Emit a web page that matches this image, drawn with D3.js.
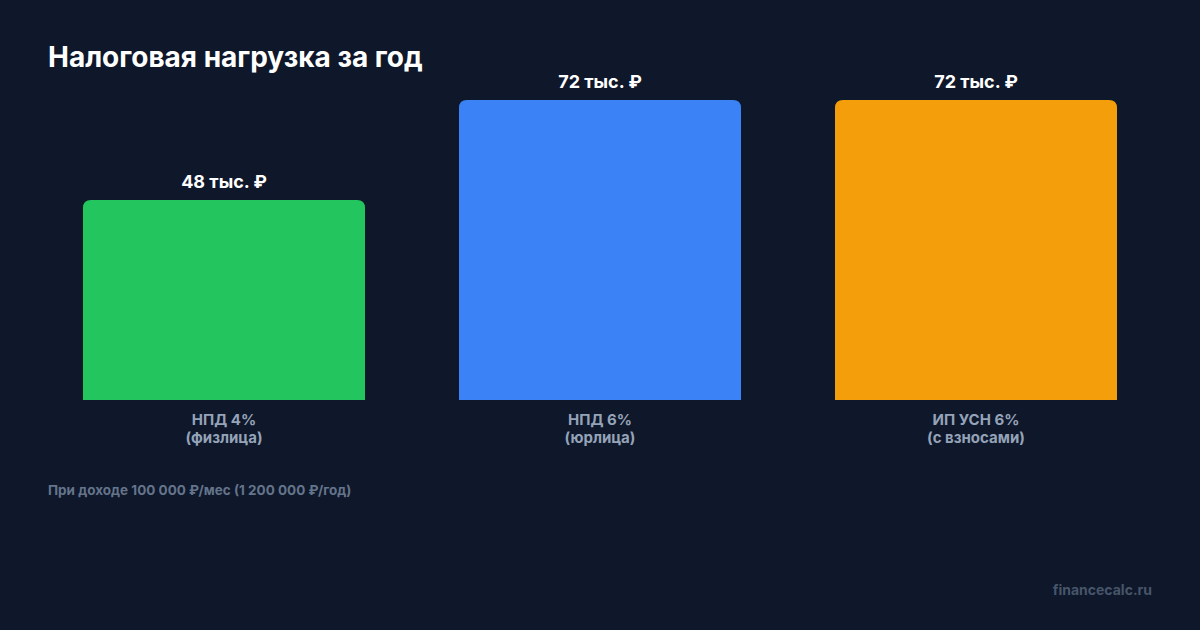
<!DOCTYPE html>
<html>
<head>
<meta charset="utf-8">
<script src="https://cdn.jsdelivr.net/npm/d3@7"></script>
<style>
  html, body { margin: 0; padding: 0; background: #0f172a; }
  svg { display: block; font-family: Inter, "Noto Sans", sans-serif; }
</style>
</head>
<body>
<svg width="1200" height="630"></svg>
<script>
const categories = ["НПД 4%", "НПД 6%", "ИП УСН 6%"];
const subLabels = ["(физлица)", "(юрлица)", "(с взносами)"];
const values = [48, 72, 72];
const valueLabels = ["48 тыс. ₽", "72 тыс. ₽", "72 тыс. ₽"];
const colors = ["#22c55e", "#3b82f6", "#f59e0b"];

const svg = d3.select("svg");
const width = +svg.attr("width");
const height = +svg.attr("height");

svg.append("rect")
  .attr("width", width)
  .attr("height", height)
  .attr("fill", "#0f172a");

const data = categories.map((c, i) => ({
  cat: c,
  sub: subLabels[i],
  value: values[i],
  label: valueLabels[i],
  color: colors[i]
}));

const x = d3.scaleBand()
  .domain(categories)
  .range([36, 1164])
  .paddingInner(0.25)
  .paddingOuter(0.125);

const y = d3.scaleLinear()
  .domain([0, d3.max(values)])
  .range([400, 100]);

const r = 8;

// bar with rounded top corners only
function barPath(d) {
  const x0 = x(d.cat), x1 = x0 + x.bandwidth();
  const y0 = y(d.value), y1 = y(0);
  return `M${x0},${y1}V${y0 + r}Q${x0},${y0} ${x0 + r},${y0}` +
    `H${x1 - r}Q${x1},${y0} ${x1},${y0 + r}V${y1}Z`;
}

svg.append("text")
  .attr("x", 48)
  .attr("y", 67)
  .attr("font-size", 28)
  .attr("font-weight", 700)
  .attr("fill", "#ffffff")
  .text("Налоговая нагрузка за год");

const bars = svg.append("g");

bars.selectAll("path")
  .data(data)
  .join("path")
  .attr("d", barPath)
  .attr("fill", d => d.color);

bars.selectAll("text.value")
  .data(data)
  .join("text")
  .attr("class", "value")
  .attr("x", d => x(d.cat) + x.bandwidth() / 2)
  .attr("y", d => y(d.value) - 12)
  .attr("text-anchor", "middle")
  .attr("font-size", 18)
  .attr("font-weight", 700)
  .attr("fill", "#ffffff")
  .text(d => d.label);

const catG = svg.append("g");

catG.selectAll("text.cat")
  .data(data)
  .join("text")
  .attr("class", "cat")
  .attr("x", d => x(d.cat) + x.bandwidth() / 2)
  .attr("y", 425)
  .attr("text-anchor", "middle")
  .attr("font-size", 15)
  .attr("font-weight", 700)
  .attr("fill", "#94a3b8")
  .text(d => d.cat);

catG.selectAll("text.sub")
  .data(data)
  .join("text")
  .attr("class", "sub")
  .attr("x", d => x(d.cat) + x.bandwidth() / 2)
  .attr("y", 443)
  .attr("text-anchor", "middle")
  .attr("font-size", 15)
  .attr("font-weight", 700)
  .attr("fill", "#94a3b8")
  .text(d => d.sub);

svg.append("text")
  .attr("x", 48)
  .attr("y", 495)
  .attr("font-size", 13.5)
  .attr("font-weight", 700)
  .attr("fill", "#64748b")
  .text("При доходе 100 000 ₽/мес (1 200 000 ₽/год)");

svg.append("text")
  .attr("x", 1152)
  .attr("y", 595)
  .attr("text-anchor", "end")
  .attr("font-size", 14)
  .attr("font-weight", 700)
  .attr("fill", "#475569")
  .text("financecalc.ru");
</script>
</body>
</html>
